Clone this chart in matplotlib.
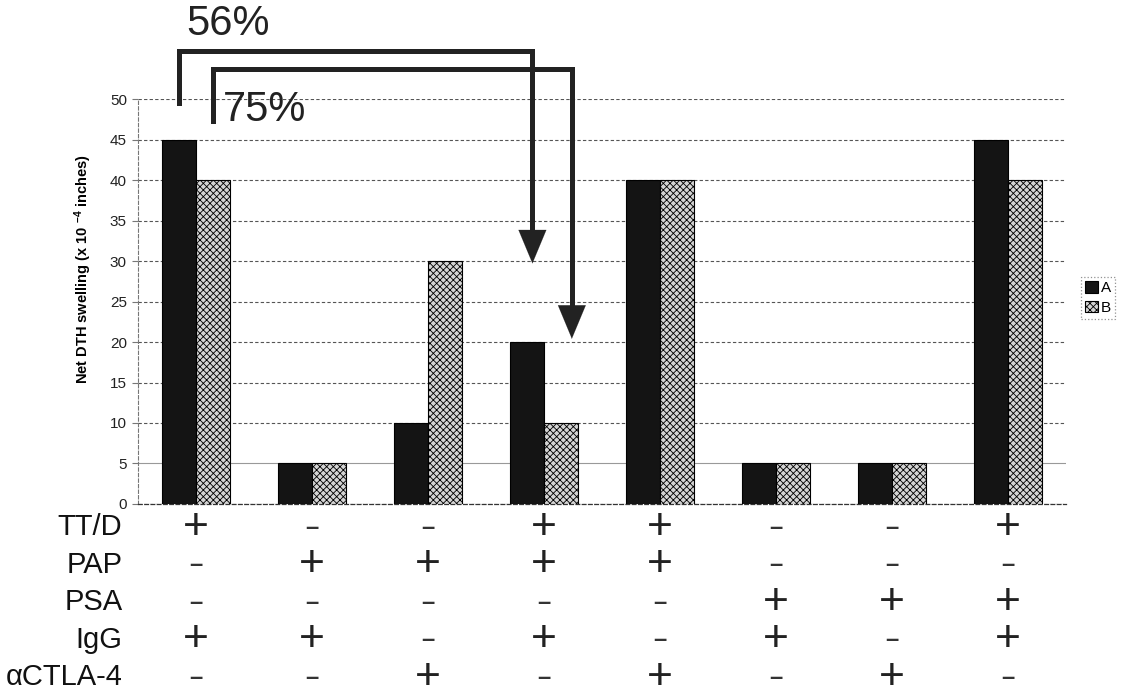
import numpy as np
import matplotlib
matplotlib.use("Agg")
from matplotlib import pyplot as plt

plt.rcParams['font.family'] = ['Liberation Sans', 'DejaVu Sans']
plt.rcParams['mathtext.fontset'] = 'custom'
plt.rcParams['mathtext.rm'] = 'Liberation Sans'
plt.rcParams['mathtext.bf'] = 'Liberation Sans:bold'
plt.rcParams['hatch.color'] = '#444444'
plt.rcParams['hatch.linewidth'] = 0.6

# Net DTH swelling per treatment group
series_a = [45, 5, 10, 20, 40, 5, 5, 45]
series_b = [40, 5, 30, 10, 40, 5, 5, 40]

# treatment table under the bars (1 = +, 0 = -)
row_labels = ["TT/D", "PAP", "PSA", "IgG", "\u03b1CTLA-4"]
treatments = [
    [1, 0, 0, 1, 1, 0, 0, 1],
    [0, 1, 1, 1, 1, 0, 0, 0],
    [0, 0, 0, 0, 0, 1, 1, 1],
    [1, 1, 0, 1, 0, 1, 0, 1],
    [0, 0, 1, 0, 1, 0, 1, 0],
]

# percent reduction callouts
pct_labels = ["56%", "75%"]

bar_width = 0.29
x = np.arange(len(series_a))

fig = plt.figure(figsize=(11.24, 6.98), dpi=100)
ax = fig.add_axes([0.1228, 0.278, 0.8256, 0.580])

ax.bar(x - bar_width / 2, series_a, width=bar_width, color="#141414",
       edgecolor="black", linewidth=0.8, label="A", zorder=3)
ax.bar(x + bar_width / 2, series_b, width=bar_width, color="#d4d4d4",
       edgecolor="black", linewidth=0.8, hatch="xxxxx", label="B", zorder=3)

ax.set_xlim(-0.5, len(x) - 0.5)
ax.set_ylim(0, 50)
ax.set_yticks(range(0, 51, 5))
ax.set_xticks([])
ax.tick_params(axis='y', labelsize=11, length=4, color='#777777',
               labelcolor='#222222', pad=4)

ax.grid(axis='y', linestyle=(0, (3, 2)), color='#555555', linewidth=0.8, zorder=0)
ax.get_ygridlines()[1].set_linestyle('-')
ax.get_ygridlines()[1].set_color('#999999')

for side in ['top', 'right']:
    ax.spines[side].set_visible(False)
ax.spines['left'].set_linestyle((0, (3, 2)))
ax.spines['left'].set_color('#777777')
ax.spines['left'].set_linewidth(0.8)
ax.spines['bottom'].set_linestyle((0, (3, 2)))
ax.spines['bottom'].set_color('#333333')
ax.spines['bottom'].set_linewidth(0.9)

ax.set_ylabel(r"Net DTH swelling (x 10 $\mathbf{^{-4}}$ inches)",
              fontsize=10.5, fontweight='bold')
ax.yaxis.set_label_coords(-0.047, 0.58)

leg = ax.legend(loc='center left', bbox_to_anchor=(0.9615, 0.573),
                bbox_transform=fig.transFigure, fontsize=11, frameon=True,
                fancybox=False, handlelength=0.8, handleheight=0.8,
                handletextpad=0.2, borderpad=0.3, labelspacing=0.35,
                borderaxespad=0)
leg.get_frame().set_edgecolor('#777777')
leg.get_frame().set_linestyle(':')
leg.get_frame().set_linewidth(0.9)

# treatment table
row_y = -0.057 - 0.0928 * np.arange(len(row_labels))
trans = ax.get_xaxis_transform()
for r, label in enumerate(row_labels):
    ax.text(-0.017, row_y[r], label, transform=ax.transAxes, ha='right',
            va='center', fontsize=21, color='#111111')
    for c, flag in enumerate(treatments[r]):
        if flag:
            ax.text(x[c], row_y[r], "+", transform=trans, ha='center',
                    va='center', fontsize=32, color='#222222')
        else:
            ax.text(x[c], row_y[r], "\u2013", transform=trans, ha='center',
                    va='center', fontsize=17, fontweight='bold', color='#333333')

# bracket arrows: from group 1 bars to group 4 bars
brackets = [
    # x start, x end, y start, y top, arrow tip
    (x[0] - bar_width / 2, x[3] - 0.10, 49.5, 55.9, 29.7),
    (x[0] + bar_width / 2, x[3] + 0.24, 47.3, 53.7, 20.4),
]
for (xs, xe, ys, yt, tip) in brackets:
    ax.plot([xs, xs, xe, xe], [ys, yt, yt, tip + 3.5], color='#222222',
            linewidth=3.6, solid_joinstyle='miter', clip_on=False, zorder=5)
    ax.annotate("", xy=(xe, tip), xytext=(xe, tip + 4.2),
                arrowprops=dict(arrowstyle='-|>,head_length=2.4,head_width=1.0',
                                mutation_scale=10, color='#222222',
                                linewidth=0.1, shrinkA=0, shrinkB=0),
                annotation_clip=False, zorder=6)

ax.text(-0.085, 57.9, pct_labels[0], fontsize=30, color='#222222',
        ha='left', va='baseline', clip_on=False)
ax.text(0.23, 47.3, pct_labels[1], fontsize=30, color='#222222',
        ha='left', va='baseline', clip_on=False)

fig.savefig("out.png", dpi=100)
